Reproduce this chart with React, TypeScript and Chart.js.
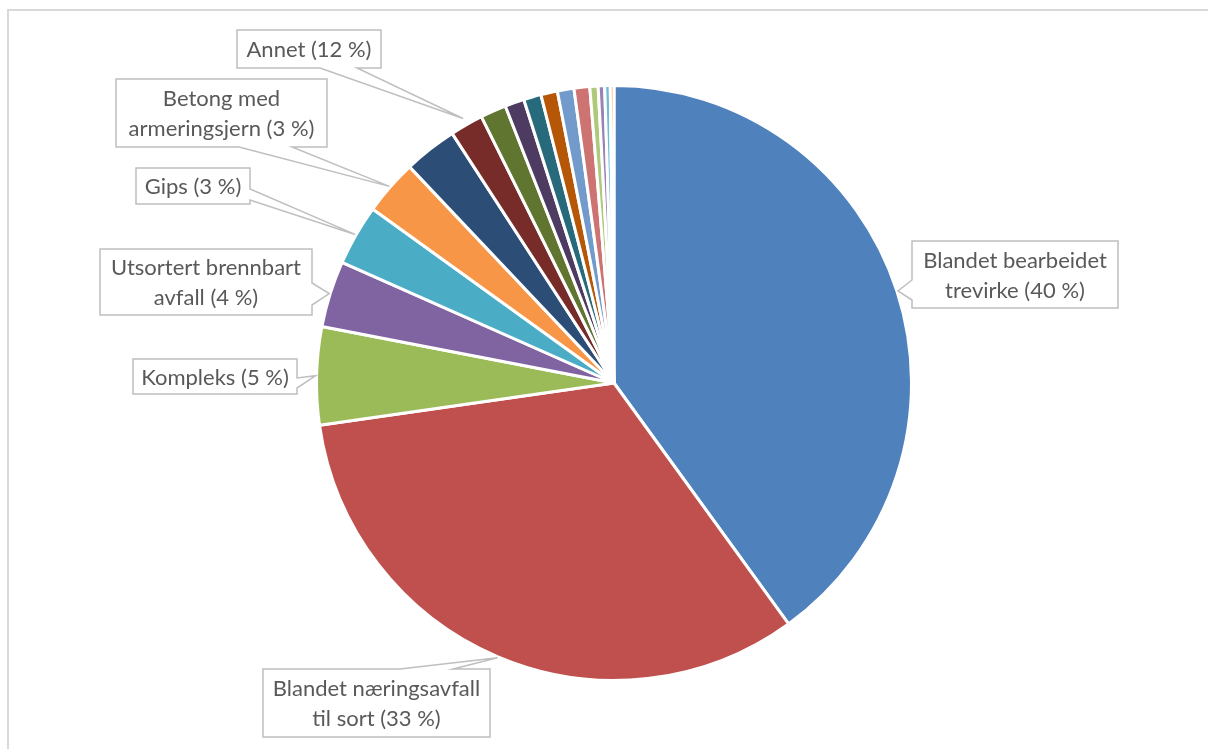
import React, { useEffect, useRef } from "react";
import { Chart, registerables } from "chart.js";

Chart.register(...registerables);

// ---- data ----
const categories: string[] = [
  "Blandet bearbeidet trevirke",
  "Blandet næringsavfall til sort",
  "Kompleks",
  "Utsortert brennbart avfall",
  "Gips",
  "Betong med armeringsjern",
  "",
  "Annet",
  "",
  "",
  "",
  "",
  "",
  "",
  "",
  "",
  "",
  "",
];
const shares: number[] = [40, 32.7, 5.3, 3.6, 3.3, 3.0, 2.9, 1.8, 1.4, 1.05, 0.95, 0.9, 0.9, 0.85, 0.45, 0.35, 0.3, 0.2];
const calloutPercents: (number | null)[] = [40, 33, 5, 4, 3, 3, null, 12, null, null, null, null, null, null, null, null, null, null];

// ---- styles ----
const palette: string[] = [
  "#4F81BD", "#C0504D", "#9BBB59", "#8064A2", "#4BACC6", "#F79646",
  "#2C4D75", "#772C2A", "#5F7530", "#4D3B62", "#276A7C", "#B65708",
  "#729ACA", "#CD7371", "#AFC97A", "#9983B5", "#6FBDD1", "#F9AB6B",
];

type Callout = {
  index: number;
  lines: string[];
  box: [number, number, number, number];
  side: "left" | "right" | "top" | "bottom";
  base: [number, number];
  tipOffset: number;
};

function pctText(i: number): string {
  return `(${calloutPercents[i]} %)`;
}

const callouts: Callout[] = [
  { index: 0, lines: ["Blandet bearbeidet", "trevirke " + pctText(0)], box: [912, 241, 206, 67], side: "left", base: [280, 300], tipOffset: 1 },
  { index: 1, lines: ["Blandet næringsavfall", "til sort " + pctText(1)], box: [263, 669, 227, 68], side: "top", base: [400, 453], tipOffset: 1 },
  { index: 2, lines: ["Kompleks " + pctText(2)], box: [133, 359, 164, 35], side: "right", base: [378, 388], tipOffset: 1 },
  { index: 3, lines: ["Utsortert brennbart", "avfall " + pctText(3)], box: [100, 249, 212, 66], side: "right", base: [283, 305], tipOffset: 1 },
  { index: 4, lines: ["Gips " + pctText(4)], box: [136, 168, 114, 36], side: "right", base: [189, 200], tipOffset: 1 },
  { index: 5, lines: ["Betong med", "armeringsjern " + pctText(5)], box: [116, 79, 211, 68], side: "bottom", base: [239, 292], tipOffset: 1 },
  { index: 7, lines: ["Annet " + pctText(7)], box: [237, 30, 144, 38], side: "bottom", base: [320, 357], tipOffset: 7 },
];

const calloutPlugin = {
  id: "callouts",
  afterDraw(chart: any) {
    const ctx: CanvasRenderingContext2D = chart.ctx;
    const meta = chart.getDatasetMeta(0);
    ctx.save();
    for (const c of callouts) {
      const arc = meta.data[c.index];
      if (!arc) continue;
      const p = arc.getProps(["x", "y", "startAngle", "endAngle", "outerRadius"], true);
      const mid = (p.startAngle + p.endAngle) / 2;
      const r = p.outerRadius + c.tipOffset;
      const tx = p.x + Math.cos(mid) * r;
      const ty = p.y + Math.sin(mid) * r;
      const [x, y, w, h] = c.box;
      const [a, b] = c.base;
      const pts: [number, number][] = [];
      pts.push([x, y]);
      if (c.side === "top") pts.push([a, y], [tx, ty], [b, y]);
      pts.push([x + w, y]);
      if (c.side === "right") pts.push([x + w, a], [tx, ty], [x + w, b]);
      pts.push([x + w, y + h]);
      if (c.side === "bottom") pts.push([b, y + h], [tx, ty], [a, y + h]);
      pts.push([x, y + h]);
      if (c.side === "left") pts.push([x, b], [tx, ty], [x, a]);
      ctx.beginPath();
      ctx.moveTo(pts[0][0], pts[0][1]);
      for (let k = 1; k < pts.length; k++) ctx.lineTo(pts[k][0], pts[k][1]);
      ctx.closePath();
      ctx.fillStyle = "#FFFFFF";
      ctx.fill();
      ctx.lineWidth = 1.5;
      ctx.strokeStyle = "#BFBFBF";
      ctx.lineJoin = "miter";
      ctx.stroke();

      ctx.fillStyle = "#595959";
      ctx.font = "22px Lato";
      ctx.textAlign = "center";
      ctx.textBaseline = "middle";
      const cx = x + w / 2;
      const cy = y + h / 2;
      const lh = 30;
      const n = c.lines.length;
      c.lines.forEach((t, k) => {
        ctx.fillText(t, cx, cy + (k - (n - 1) / 2) * lh + 1);
      });
    }
    ctx.restore();
  },
};

export default function App() {
  const ref = useRef<HTMLCanvasElement>(null);
  useEffect(() => {
    if (!ref.current) return;
    const chart = new Chart(ref.current, {
      type: "pie",
      data: {
        labels: categories,
        datasets: [
          {
            data: shares,
            backgroundColor: palette,
            borderColor: "#FFFFFF",
            borderWidth: 3,
          },
        ],
      },
      options: {
        animation: false,
        responsive: false,
        radius: 297.5,
        layout: { padding: { left: 20, top: 17, right: 0, bottom: 0 } },
        plugins: {
          legend: { display: false },
          tooltip: { enabled: false },
        },
      } as any,
      plugins: [calloutPlugin],
    });
    return () => chart.destroy();
  }, []);

  return (
    <>
      <div
        style={{
          position: "fixed",
          left: 7,
          top: 9,
          width: 1300,
          height: 900,
          border: "2px solid #D9D9D9",
          boxSizing: "border-box",
          pointerEvents: "none",
        }}
      />
      <canvas
        ref={ref}
        width={1208}
        height={749}
        style={{ position: "fixed", left: 0, top: 0, width: 1208, height: 749 }}
      />
    </>
  );
}
